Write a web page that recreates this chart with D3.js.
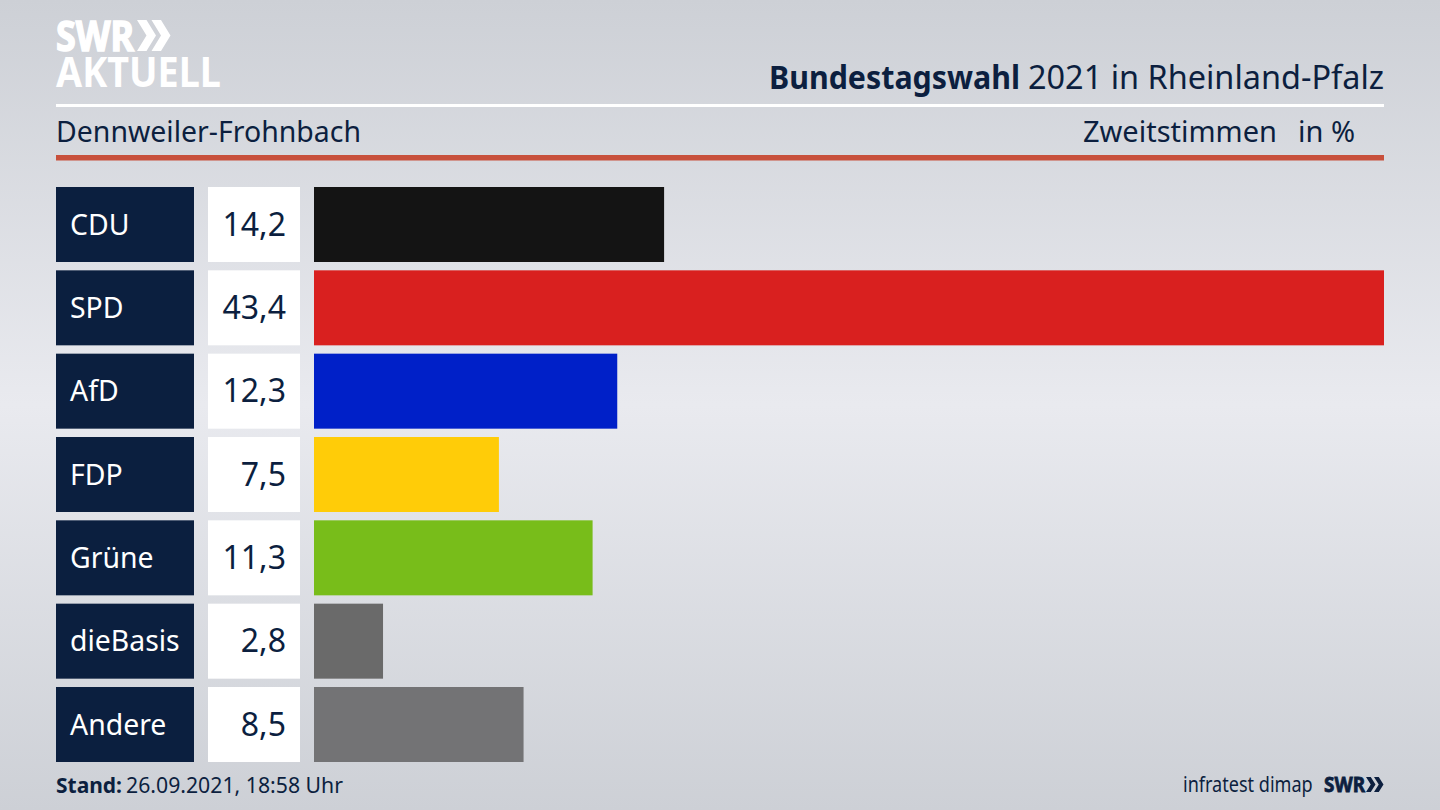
<!DOCTYPE html>
<html>
<head>
<meta charset="utf-8">
<script src="https://cdn.jsdelivr.net/npm/d3@7"></script>
<style>
  html, body { margin: 0; padding: 0; background: #d5d7dc; }
  svg { display: block; }
  text { font-family: "Noto Sans", "Open Sans", sans-serif; fill: #0c1f3f; }
</style>
</head>
<body>
<div id="chart"></div>
<script>
// Values
const parties = ["CDU", "SPD", "AfD", "FDP", "Grüne", "dieBasis", "Andere"];
const shares = [14.2, 43.4, 12.3, 7.5, 11.3, 2.8, 8.5];
const partyColors = ["#141414", "#d9201f", "#0020c8", "#ffcc08", "#78bd1a", "#6a6a6a", "#737375"];

const width = 1440, height = 810;
const navy = "#0c1f3f";

const svg = d3.select("#chart")
    .append("svg")
    .attr("width", width)
    .attr("height", height)
    .attr("viewBox", [0, 0, width, height]);

// Background
const grad = svg.append("defs").append("linearGradient")
    .attr("id", "bg").attr("x1", 0).attr("y1", 0).attr("x2", 0).attr("y2", 1);
grad.append("stop").attr("offset", "0%").attr("stop-color", "#cdd0d6");
grad.append("stop").attr("offset", "50%").attr("stop-color", "#e9eaef");
grad.append("stop").attr("offset", "100%").attr("stop-color", "#cdd0d6");
svg.append("rect").attr("width", width).attr("height", height).attr("fill", "url(#bg)");

// Scales
const y = d3.scaleBand().domain(parties).range([187, 762]).paddingInner(0.1);
const x = d3.scaleLinear().domain([0, 43.4]).range([314, 1384]);
const fmt = (v) => v.toFixed(1).replace(".", ",");

// Logo top left
const logo = svg.append("g").attr("data-fill", "#fff");
logo.append("text").attr("x", 56).attr("y", 51)
    .attr("font-size", 42).attr("font-weight", 700).style("fill", "#fff")
    .style("stroke", "#fff").style("stroke-width", 1.5)
    .attr("textLength", 78).attr("lengthAdjust", "spacingAndGlyphs").text("SWR");
logo.append("text").attr("x", 56).attr("y", 87)
    .attr("font-size", 42).attr("font-weight", 700).style("fill", "#fff")
    .attr("textLength", 165).attr("lengthAdjust", "spacingAndGlyphs").text("AKTUELL");

function chevrons(g, x0, y0, h, w, gap) {
    [0, gap].forEach((dx) => {
        const p = d3.path();
        p.moveTo(x0 + dx, y0);
        p.lineTo(x0 + dx + w * 0.5, y0);
        p.lineTo(x0 + dx + w, y0 + h / 2);
        p.lineTo(x0 + dx + w * 0.5, y0 + h);
        p.lineTo(x0 + dx, y0 + h);
        p.lineTo(x0 + dx + w * 0.5, y0 + h / 2);
        p.closePath();
        g.append("path").attr("d", p.toString()).attr("fill", g.attr("data-fill"));
    });
}
chevrons(logo, 137, 20, 31, 19, 14.5);

// Header
svg.append("text").attr("x", 769).attr("y", 89).attr("font-size", 32).attr("font-weight", 700)
    .attr("textLength", 251).attr("lengthAdjust", "spacingAndGlyphs").text("Bundestagswahl");
svg.append("text").attr("x", 1028).attr("y", 89).attr("font-size", 32)
    .attr("textLength", 356).attr("lengthAdjust", "spacingAndGlyphs").text("2021 in Rheinland-Pfalz");

svg.append("rect").attr("x", 56).attr("y", 104).attr("width", 1328).attr("height", 3).attr("fill", "#fff");
svg.append("rect").attr("x", 56).attr("y", 155).attr("width", 1328).attr("height", 5.5).attr("fill", "#c8503c");

svg.append("text").attr("x", 56).attr("y", 142).attr("font-size", 29)
    .attr("textLength", 305).attr("lengthAdjust", "spacingAndGlyphs").text("Dennweiler-Frohnbach");
svg.append("text").attr("x", 1277).attr("y", 142).attr("text-anchor", "end").attr("font-size", 29).text("Zweitstimmen");
svg.append("text").attr("x", 1355).attr("y", 142).attr("text-anchor", "end").attr("font-size", 29).text("in %");

// Rows
const rows = svg.selectAll("g.row")
    .data(parties)
    .enter()
    .append("g")
    .attr("class", "row")
    .attr("transform", (d) => `translate(0, ${y(d)})`);

rows.append("rect").attr("x", 56).attr("width", 138).attr("height", y.bandwidth()).attr("fill", "#0b1f3f");
rows.append("text").attr("x", 70).attr("y", y.bandwidth() / 2 + 10)
    .attr("font-size", 28.4).style("fill", "#fff").text((d) => d);

rows.append("rect").attr("x", 208).attr("width", 92).attr("height", y.bandwidth()).attr("fill", "#fff");
rows.append("text").attr("x", 286).attr("y", y.bandwidth() / 2 + 11)
    .attr("text-anchor", "end").attr("font-size", 32)
    .text((d, i) => fmt(shares[i]));

rows.append("rect").attr("x", x(0)).attr("height", y.bandwidth())
    .attr("width", (d, i) => x(shares[i]) - x(0))
    .attr("fill", (d, i) => partyColors[i]);

// Footer
svg.append("text").attr("x", 56).attr("y", 793).attr("font-size", 21.5).attr("font-weight", 700)
    .attr("textLength", 66).attr("lengthAdjust", "spacingAndGlyphs").text("Stand:");
svg.append("text").attr("x", 126).attr("y", 793).attr("font-size", 21.5)
    .attr("textLength", 217).attr("lengthAdjust", "spacingAndGlyphs").text("26.09.2021, 18:58 Uhr");

// squeezed sideways so its box stops short of the SWR mark
svg.append("text").attr("transform", "translate(1183, 792) scale(0.86, 1)").attr("font-size", 21)
    .text("infratest dimap");
const small = svg.append("g").attr("data-fill", navy);
small.append("text").attr("x", 1324).attr("y", 792).attr("font-size", 21).attr("font-weight", 700)
    .style("stroke", navy).style("stroke-width", 0.8)
    .attr("textLength", 41).attr("lengthAdjust", "spacingAndGlyphs").text("SWR");
chevrons(small, 1366, 777, 15, 9.5, 8);
</script>
</body>
</html>
